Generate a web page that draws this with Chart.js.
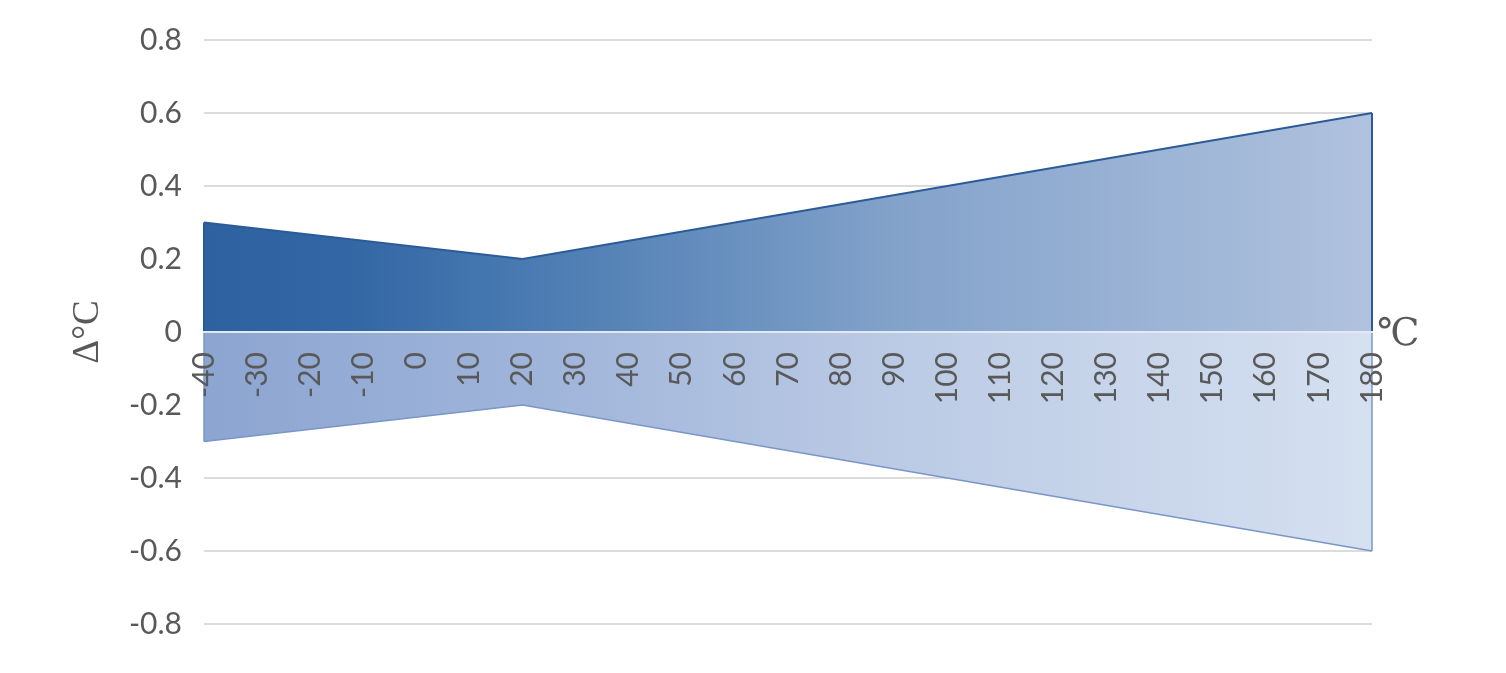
<!DOCTYPE html>
<html>
<head>
<meta charset="utf-8">
<script src="https://cdn.jsdelivr.net/npm/chart.js@4/dist/chart.umd.min.js"></script>
<style>
  html, body { margin: 0; padding: 0; background: #ffffff; }
  #wrap { width: 1506px; height: 673px; position: relative; }
</style>
</head>
<body>
<div id="wrap"><canvas id="c" width="1506" height="673"></canvas></div>
<script>
// ---- data ----
const categories = ['-40','-30','-20','-10','0','10','20','30','40','50','60','70','80','90','100','110','120','130','140','150','160','170','180'];
const keyTemps   = ['-40', '20', '180'];
const upperVals  = [0.3, 0.2, 0.6];
const lowerVals  = [-0.3, -0.2, -0.6];
const yTickVals  = [-0.8, -0.6, -0.4, -0.2, 0, 0.2, 0.4, 0.6, 0.8];
const yTickLabels = ['-0.8', '-0.6', '-0.4', '-0.2', '0', '0.2', '0.4', '0.6', '0.8'];
const yTitle = 'Δ°C';
const xUnit = '℃';

const upperStops = [[0, '#2D61A0'], [0.12, '#3266A4'], [0.3, '#4D7DB3'], [0.6, '#84A3CB'], [1, '#B0C2DE']];
const lowerStops = [[0, '#8CA5D1'], [0.3, '#A0B5DA'], [0.6, '#BCCBE5'], [1, '#D5E0F0']];

function makeGrad(stops) {
  return (context) => {
    const chart = context.chart;
    const area = chart.chartArea;
    if (!area) return 'rgba(0,0,0,0)';
    const g = chart.ctx.createLinearGradient(area.left, 0, area.right, 0);
    stops.forEach(s => g.addColorStop(s[0], s[1]));
    return g;
  };
}

const edgePlugin = {
  id: 'edges',
  afterDatasetsDraw(chart) {
    const ctx = chart.ctx;
    const y0 = chart.scales.y.getPixelForValue(0);
    chart.data.datasets.forEach((ds, i) => {
      const meta = chart.getDatasetMeta(i);
      const pts = meta.data;
      if (!pts.length) return;
      ctx.save();
      ctx.strokeStyle = ds.borderColor;
      ctx.lineWidth = ds.borderWidth;
      [pts[0], pts[pts.length - 1]].forEach(p => {
        ctx.beginPath();
        ctx.moveTo(p.x, p.y);
        ctx.lineTo(p.x, y0);
        ctx.stroke();
      });
      ctx.restore();
    });
  },
  afterDraw(chart) {
    const ctx = chart.ctx;
    const area = chart.chartArea;
    const y0 = chart.scales.y.getPixelForValue(0);
    ctx.save();
    ctx.fillStyle = '#595959';
    ctx.font = '38px "Liberation Serif", "DejaVu Serif", serif';
    ctx.textAlign = 'left';
    ctx.textBaseline = 'middle';
    ctx.fillText(xUnit, area.right + 5, y0 + 3);
    ctx.restore();
  }
};

new Chart(document.getElementById('c'), {
  type: 'line',
  data: {
    labels: categories,
    datasets: [
      {
        data: keyTemps.map((t, i) => ({ x: t, y: upperVals[i] })),
        borderColor: '#2B5B98',
        borderWidth: 2,
        backgroundColor: makeGrad(upperStops),
        fill: 'origin',
        pointRadius: 0,
        tension: 0
      },
      {
        data: keyTemps.map((t, i) => ({ x: t, y: lowerVals[i] })),
        borderColor: '#7A96C8',
        borderWidth: 1.5,
        backgroundColor: makeGrad(lowerStops),
        fill: 'origin',
        pointRadius: 0,
        tension: 0
      }
    ]
  },
  options: {
    responsive: false,
    animation: false,
    events: [],
    layout: { padding: { left: 0, right: 134, top: 40, bottom: 49 } },
    plugins: { legend: { display: false }, tooltip: { enabled: false } },
    scales: {
      x: {
        type: 'category',
        position: { y: 0 },
        offset: false,
        grid: { display: false, drawTicks: false },
        border: { display: true, color: '#E2E9F4', width: 2, z: 1 },
        ticks: {
          z: 1,
          autoSkip: false,
          minRotation: 90,
          maxRotation: 90,
          padding: 20,
          color: '#595959',
          font: { family: 'Lato', size: 30 }
        }
      },
      y: {
        min: -0.8,
        max: 0.8,
        afterBuildTicks(scale) { scale.ticks = yTickVals.map(v => ({ value: v })); },
        afterFit(scale) { scale.width = 204; },
        grid: { color: '#DCDCDC', lineWidth: 2, drawTicks: false },
        border: { display: false },
        ticks: {
          padding: 22,
          color: '#595959',
          font: { family: 'Lato', size: 30 },
          callback: (v) => yTickLabels[yTickVals.findIndex(t => Math.abs(t - v) < 1e-9)]
        },
        title: {
          display: true,
          text: yTitle,
          color: '#595959',
          font: { family: '"Liberation Serif", "DejaVu Serif", serif', size: 37 },
          padding: { top: 66, bottom: 0 }
        }
      }
    }
  },
  plugins: [edgePlugin]
});
</script>
</body>
</html>
